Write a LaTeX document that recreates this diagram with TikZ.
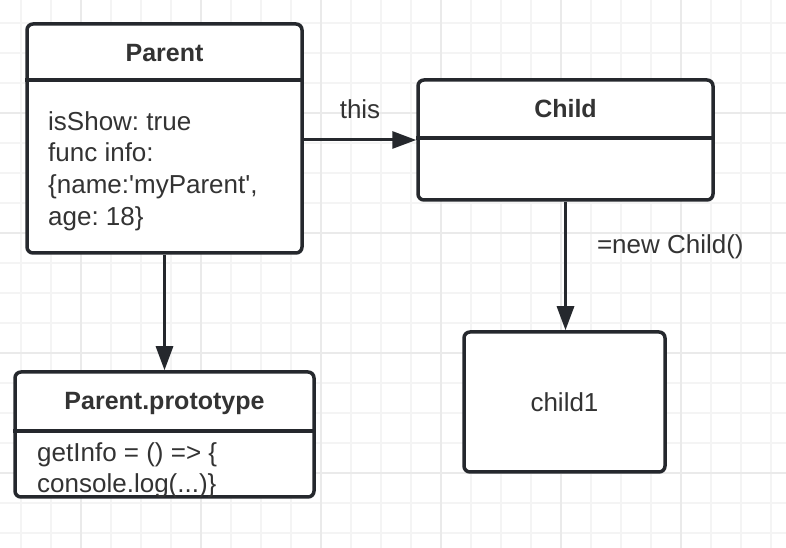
\documentclass[tikz,border=0pt]{standalone}
\usepackage{fontspec}
\setmainfont{Liberation Sans}
\frenchspacing
\usetikzlibrary{arrows.meta,positioning,calc}
\definecolor{boxline}{HTML}{25282D}
\definecolor{inktext}{HTML}{333333}
\definecolor{gridminor}{HTML}{F4F4F4}
\definecolor{gridmajor}{HTML}{EAEAEA}
\tikzset{umlbox/.style={draw=boxline, line width=3.5pt, rounded corners=6pt, fill=white, inner sep=0pt},
  titletext/.style={font=\fontsize{25}{32}\selectfont\bfseries, text=inktext, anchor=base, inner sep=0pt},
  bodytext/.style={font=\fontsize{26}{31.7}\selectfont, text=inktext, align=left, inner sep=0pt},
  divider/.style={draw=boxline, line width=3.5pt},
  link/.style={draw=boxline, line width=3pt, -{Triangle[length=24pt,width=17pt]}},
  linklabel/.style={font=\fontsize{26}{30}\selectfont, text=inktext, inner sep=0pt}}

\begin{document}
\begin{tikzpicture}[x=1pt,y=1pt]
  \useasboundingbox (0,0) rectangle (786,548);
  \fill[white] (0,0) rectangle (786,548);
  % background grid
  \draw[gridminor, line width=1.2pt, shift={(21,15)}, step=30] (-21,-15) grid (765,533);
  \draw[gridmajor, line width=1.2pt, shift={(81,75)}, step=120] (-81,-75) grid (705,473);

  % boxes
  \node[umlbox, minimum width=275pt, minimum height=229pt] (parent) at (164.5,409.5) {};
  \node[umlbox, minimum width=295pt, minimum height=120pt] (child) at (565.5,408) {};
  \node[umlbox, minimum width=299pt, minimum height=125pt] (proto) at (164.5,113.5) {};
  \node[umlbox, minimum width=201pt, minimum height=140pt, font=\fontsize{26}{30}\selectfont, text=inktext] (child1) at (564.5,146) {child1};

  % headers
  \draw[divider] ([yshift=-58pt]parent.north west) -- ([yshift=-58pt]parent.north east);
  \node[titletext] (parenttitle) at ([yshift=-39pt]parent.north) {Parent};
  \draw[divider] ([yshift=-60pt]child.north west) -- ([yshift=-60pt]child.north east);
  \node[titletext] (childtitle) at ([yshift=-39pt]child.north) {Child};
  \draw[divider] ([yshift=-61pt]proto.north west) -- ([yshift=-61pt]proto.north east);
  \node[titletext] (prototitle) at ([yshift=-39pt]proto.north) {Parent.prototype};

  % members
  \node[bodytext, anchor=north west] (parentbody) at (48,437)
    {isShow: true\\func info:\\\{name:\textquotesingle myParent\textquotesingle,\\age: 18\}};
  \node[bodytext, anchor=north west] (protobody) at (37,106)
    {getInfo = () => \{\\console.log(...)\}};

  % links
  \draw[link] (parent.east |- child.west) -- (child.west)
    node[linklabel, midway, above=20pt] {this};
  \draw[link] (parent.south) -- (proto.north);
  \draw[link] (child.south) -- (child.south |- child1.north)
    node[linklabel, pos=0.35, anchor=west, xshift=30pt] {=new Child()};
\end{tikzpicture}
\end{document}
